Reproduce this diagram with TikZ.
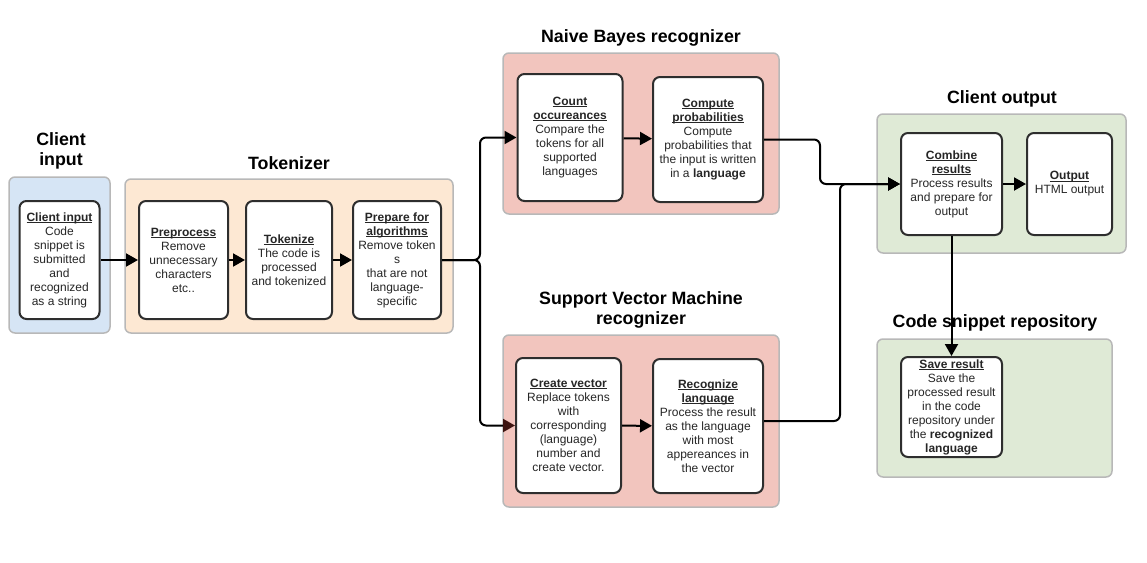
\documentclass[tikz,border=0pt]{standalone}
\usepackage{fontspec}
\setmainfont{Liberation Sans}
\usetikzlibrary{arrows.meta}

\definecolor{inputblue}{HTML}{D6E5F5}
\definecolor{tokpeach}{HTML}{FDE8D3}
\definecolor{recred}{HTML}{F2C5BE}
\definecolor{outgreen}{HTML}{DFEAD6}
\definecolor{groupgray}{HTML}{B8B8B8}
\definecolor{stepgray}{HTML}{2E2E2E}
\definecolor{headbrown}{HTML}{3D1410}

\newsavebox{\hdbox}
\newcommand{\hd}[1]{\sbox{\hdbox}{\textbf{#1}}\rlap{\rule[-1.7pt]{\wd\hdbox}{0.9pt}}\usebox{\hdbox}}

\tikzset{
  every group/.style={draw=groupgray, line width=1.5pt, rounded corners=6pt, inner sep=0pt},
  every step/.style={draw=stepgray, fill=white, line width=2pt, rounded corners=7pt,
    align=center, inner sep=0pt, text=black!85,
    font=\fontsize{12}{14}\selectfont},
  group title/.style={align=center, font=\fontsize{17.8}{20}\selectfont\bfseries}
}

\begin{document}
\begin{tikzpicture}[x=1pt, y=-1pt, line width=2pt, >={Triangle[length=12pt, width=13pt]}]

  \useasboundingbox (0,0) rectangle (1147,562);

  % groups
  \node [every group/.try, fill=inputblue, minimum width=101pt, minimum height=156pt] (group-in) at (59.5,255) {};
  \node [every group/.try, fill=tokpeach, minimum width=328pt, minimum height=154pt] (group-tok) at (289,256) {};
  \node [every group/.try, fill=recred, minimum width=276pt, minimum height=161pt] (group-nb) at (641,133.5) {};
  \node [every group/.try, fill=recred, minimum width=276pt, minimum height=172pt] (group-svm) at (641,421) {};
  \node [every group/.try, fill=outgreen, minimum width=249pt, minimum height=139pt] (group-out) at (1001.5,183.5) {};
  \node [every group/.try, fill=outgreen, minimum width=235pt, minimum height=138pt] (group-repo) at (994.5,408) {};

  % titles
  \node [group title] (title-in) at (61,151) {Client\\input};
  \node [group title] (title-tok) at (289,163) {Tokenizer};
  \node [group title] (title-nb) at (641,38) {Naive Bayes recognizer};
  \node [group title] (title-svm) at (641,310) {Support Vector Machine\\recognizer};
  \node [group title] (title-out) at (1002,99) {Client output};
  \node [group title] (title-repo) at (995,323) {Code snippet repository};

  % steps
  \node [every step/.try, minimum width=80pt, minimum height=118pt] (in-1) at (59.5,260)
    {\hd{Client input}\\Code\\snippet is\\submitted\\and\\recognized\\as a string};
  \node [every step/.try, minimum width=89pt, minimum height=118pt] (tok-1) at (183.5,260)
    {\hd{Preprocess}\\Remove\\unnecessary\\characters\\etc..};
  \node [every step/.try, minimum width=86pt, minimum height=118pt] (tok-2) at (289,260)
    {\hd{Tokenize}\\The code is\\processed\\and tokenized};
  \node [every step/.try, minimum width=88pt, minimum height=118pt] (tok-3) at (397,260)
    {\hd{Prepare for}\\\hd{algorithms}\\Remove token\\s\\that are not\\language-\\specific};

  \node [every step/.try, minimum width=105pt, minimum height=127pt] (nb-1) at (570,137.5)
    {\hd{Count}\\\hd{occureances}\\Compare the\\tokens for all\\supported\\languages};
  \node [every step/.try, minimum width=110pt, minimum height=125pt] (nb-2) at (708,139.5)
    {\hd{Compute}\\\hd{probabilities}\\Compute\\probabilities that\\the input is written\\in a \textbf{language}};

  \node [every step/.try, minimum width=105pt, minimum height=135pt] (svm-1) at (568.5,425.5)
    {\hd{Create vector}\\Replace tokens\\with\\corresponding\\(language)\\number and\\create vector.};
  \node [every step/.try, minimum width=110pt, minimum height=134pt] (svm-2) at (708,426)
    {\hd{Recognize}\\\hd{language}\\Process the result\\as the language\\with most\\appereances in\\the vector};

  \node [every step/.try, minimum width=101pt, minimum height=102pt] (out-1) at (951.5,184)
    {\hd{Combine}\\\hd{results}\\Process results\\and prepare for\\output};
  \node [every step/.try, minimum width=85pt, minimum height=102pt] (out-2) at (1069.5,184)
    {\hd{Output}\\HTML output};

  \node [every step/.try, minimum width=101pt, minimum height=100pt] (repo-1) at (951.5,407)
    {\hd{Save result}\\Save the\\processed result\\in the code\\repository under\\the \textbf{recognized}\\\textbf{language}};

  % connections
  \foreach \a/\b in {in-1/tok-1, tok-1/tok-2, tok-2/tok-3, nb-1/nb-2, svm-1/svm-2, out-1/out-2}
  \draw [->] (\a) -- (\b);

  \draw [->, rounded corners=6pt] (tok-3.east) -- ++(38,0) |- (nb-1.west);
  \draw [-{Triangle[length=12pt, width=13pt, color=headbrown]}, rounded corners=6pt] (tok-3.east) -- ++(38,0) |- (svm-1.west);

  \draw [->, rounded corners=6pt] (nb-2.east) -- (820,139.5) |- (out-1.west);
  \draw [->, rounded corners=6pt] ([yshift=5pt]svm-2.east) -- (840,421) |- (out-1.west);

  \draw [->] (out-1) -- (repo-1);

\end{tikzpicture}
\end{document}
